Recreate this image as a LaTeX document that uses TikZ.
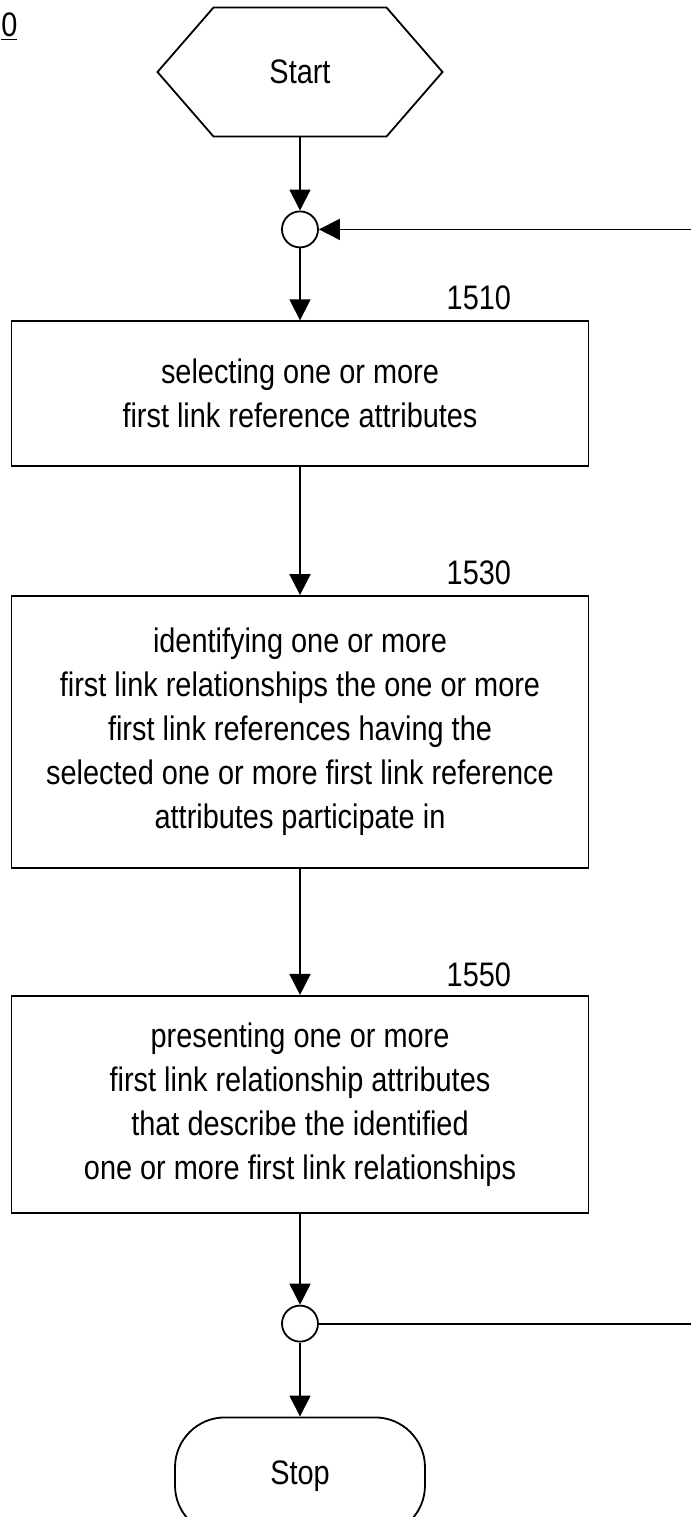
\documentclass[tikz,border=0pt]{standalone}
\usepackage{fontspec}
\setmainfont{Liberation Sans}[FakeStretch=0.85]
\usetikzlibrary{arrows.meta,positioning}
\tikzset
{
    flowbox/.style = {rectangle, draw=black, line width=0.9pt, align=center, minimum width=288.5pt, inner sep=0pt},
    joinnode/.style = {circle, draw=black, line width=0.9pt, minimum size=18pt, inner sep=0pt},
    termnode/.style = {rectangle, draw=black, line width=0.9pt, rounded corners=25pt, minimum width=125pt, minimum height=59pt},
    startnode/.style = {rectangle, minimum width=142.5pt, minimum height=64.5pt, inner sep=0pt, outer sep=0pt},
    reflabel/.style = {inner sep=0pt},
    flowline/.style = {line width=0.9pt, -{Triangle[length=10.5pt,width=10.5pt]}}
}

\begin{document}
\begin{tikzpicture}[x=0.5pt, y=-0.5pt, every node/.style={font=\fontsize{17pt}{22pt}\selectfont}]
	\useasboundingbox (0,0) rectangle (691,1517);
	% figure number at the top left
	\node[reflabel, anchor=west] (fignum) at (1,27) {\underline{0}};
	% chain of steps
	\node[startnode] (start) at (300,72) {Start};
	\node[joinnode, below=37pt of start] (join1) {};
	\node[flowbox, minimum height=72.5pt, below=36pt of join1] (step1510) {selecting one or more\\first link reference attributes};
	\node[flowbox, minimum height=136pt, below=64pt of step1510] (step1530) {identifying one or more\\first link relationships the one or more\\first link references having the\\selected one or more first link reference\\attributes participate in};
	\node[flowbox, minimum height=108.5pt, below=63pt of step1530] (step1550) {presenting one or more\\first link relationship attributes\\that describe the identified\\one or more first link relationships};
	\node[joinnode, below=45.5pt of step1550] (join2) {};
	\node[termnode, below=37pt of join2] (stop) {Stop};
	% step numbers
	\node[reflabel, above left=5pt and 39pt of step1510.north east] (lab1510) {1510};
	\node[reflabel, above left=5pt and 39pt of step1530.north east] (lab1530) {1530};
	\node[reflabel, above left=4pt and 39pt of step1550.north east] (lab1550) {1550};
	% hexagon round the start node
	\draw[line width=0.9pt] ([xshift=28pt]start.north west) -- ([xshift=-28pt]start.north east) -- (start.east)
		-- ([xshift=-28pt]start.south east) -- ([xshift=28pt]start.south west) -- (start.west) -- cycle;
	% loop lines to the right edge
	\coordinate (rightedge) at (691,0);
	\coordinate (loopin) at (join1.east -| rightedge);
	\coordinate (loopout) at (join2.east -| rightedge);
	% connectors
	\draw[flowline] (start.south) -- (join1.north);
	\draw[flowline] (loopin) -- (join1.east);
	\draw[flowline] (join1.south) -- (step1510.north);
	\draw[flowline] (step1510.south) -- (step1530.north);
	\draw[flowline] (step1530.south) -- (step1550.north);
	\draw[flowline] (step1550.south) -- (join2.north);
	\draw[flowline] (join2.south) -- (stop.north);
	\draw[line width=0.9pt] (join2.east) -- (loopout);
\end{tikzpicture}
\end{document}
